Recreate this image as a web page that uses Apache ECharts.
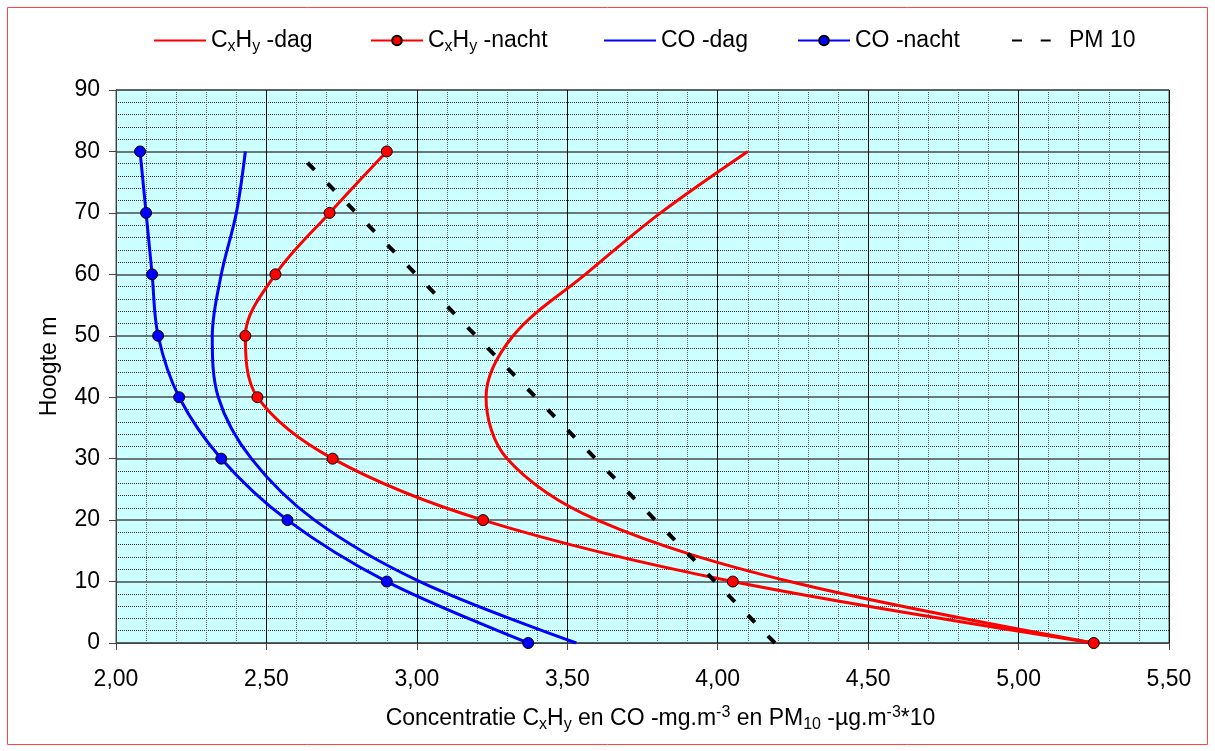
<!DOCTYPE html>
<html>
<head>
<meta charset="utf-8">
<title>Hoogteprofiel concentraties</title>
<script src="https://cdn.jsdelivr.net/npm/echarts@6/dist/echarts.min.js"></script>
<style>
  html, body { margin: 0; padding: 0; background: #ffffff; }
  #chart { width: 1215px; height: 751px; }
</style>
</head>
<body>
<div id="chart"></div>
<script>
// Measuring heights (m)
const heights = [0, 10, 20, 30, 40, 50, 60, 70, 80];

// Concentrations per height (CxHy and CO in mg/m3, PM10 in µg/m3 / 10)
const cxhyDag   = [5.25, 4.24, 3.60, 3.30, 3.23, 3.32, 3.56, 3.81, 4.10];
const cxhyNacht = [5.25, 4.05, 3.22, 2.72, 2.47, 2.43, 2.53, 2.71, 2.90];
const coDag     = [3.53, 3.01, 2.66, 2.45, 2.34, 2.32, 2.35, 2.40, 2.43];
const coNacht   = [3.37, 2.90, 2.57, 2.35, 2.21, 2.14, 2.12, 2.10, 2.08];

// PM10 profile (straight line between bottom and top)
const pm10Heights = [0, 80];
const pm10        = [4.19, 2.60];

// Series names and their rich-text legend labels
const seriesNames = ['CxHy -dag', 'CxHy -nacht', 'CO -dag', 'CO -nacht', 'PM 10'];
const legendLabels = {
  'CxHy -dag':   '{n|C}{sub|x}{n|H}{sub|y}{n| -dag}',
  'CxHy -nacht': '{n|C}{sub|x}{n|H}{sub|y}{n| -nacht}',
  'CO -dag':     '{n|CO -dag}',
  'CO -nacht':   '{n|CO -nacht}',
  'PM 10':       '{n|PM 10}'
};

// Axis ranges and tick steps
const xMin = 2.0, xMax = 5.5, xStep = 0.5;
const yMin = 0, yMax = 90, yStep = 10;

const pairs = (xs, ys) => xs.map((x, i) => [x, ys[i]]);
const fmtComma = v => v.toFixed(2).replace('.', ',');

const FONT = '"Liberation Sans", Arial, sans-serif';
const richText = {
  n:   { fontFamily: FONT, fontSize: 23, color: '#000', lineHeight: 28 },
  sub: { fontFamily: FONT, fontSize: 16, color: '#000', lineHeight: 15, verticalAlign: 'bottom' },
  sup: { fontFamily: FONT, fontSize: 16, color: '#000', lineHeight: 16, verticalAlign: 'top' }
};

const legendLeft = [153, 370, 603, 797, 1011];
const noMarker = { 'CxHy -dag': true, 'CO -dag': true, 'PM 10': true };

const legends = seriesNames.map((name, i) => ({
  left: legendLeft[i],
  top: 29,
  padding: 0,
  orient: 'horizontal',
  itemWidth: 52,
  itemHeight: 12,
  selectedMode: false,
  data: [noMarker[name] ? { name: name, itemStyle: { opacity: 0 } } : { name: name }],
  formatter: n => legendLabels[n],
  textStyle: { fontFamily: FONT, fontSize: 23, color: '#000', rich: richText }
}));

// Smoothed profile line; markers only for the night series
const lineSeries = (name, xs, ys, color, markers) => ({
  name: name,
  type: 'line',
  data: pairs(xs, ys),
  smooth: 0.34,
  smoothMonotone: null,
  symbol: markers ? 'circle' : 'none',
  showSymbol: !!markers,
  symbolSize: 11,
  lineStyle: { color: color, width: 3 },
  itemStyle: { color: color, borderColor: '#000', borderWidth: 1 },
  emphasis: { disabled: true },
  z: 3
});

const option = {
  animation: false,
  backgroundColor: '#ffffff',
  textStyle: { fontFamily: FONT },
  graphic: [{
    type: 'rect',
    silent: true,
    shape: { x: 7.5, y: 7.5, width: 1200, height: 737 },
    style: { fill: 'none', stroke: '#ff4444', lineWidth: 1 },
    z: -1
  }],
  legend: legends,
  grid: {
    left: 116, top: 90, width: 1053, height: 553,
    show: true,
    backgroundColor: '#ccffff',
    borderColor: '#555555',
    borderWidth: 1,
    containLabel: false
  },
  xAxis: {
    type: 'value',
    min: xMin, max: xMax, interval: xStep,
    name: '{n|Concentratie C}{sub|x}{n|H}{sub|y}{n| en CO -mg.m}{sup|-3}{n| en PM}{sub|10}{n| -µg.m}{sup|-3}{n|*10}',
    nameLocation: 'middle',
    nameGap: 62,
    nameTextStyle: { fontFamily: FONT, fontSize: 23, color: '#000', rich: richText, padding: [0, 0, 0, 36] },
    axisLine: { show: true, lineStyle: { color: '#444444', width: 1 } },
    axisTick: { show: true, inside: false, length: 7, lineStyle: { color: '#444444' } },
    axisLabel: { formatter: fmtComma, fontFamily: FONT, fontSize: 23, color: '#000', margin: 25 },
    splitLine: { show: true, lineStyle: { color: '#111111', width: 1 } },
    minorTick: { show: false, splitNumber: 5 },
    minorSplitLine: { show: true, lineStyle: { color: '#5a6a6a', width: 1, type: 'dotted' } }
  },
  yAxis: {
    type: 'value',
    min: yMin, max: yMax, interval: yStep,
    name: 'Hoogte m',
    nameLocation: 'middle',
    nameGap: 51,
    nameRotate: 90,
    nameTextStyle: { fontFamily: FONT, fontSize: 23, color: '#000', lineHeight: 28 },
    axisLine: { show: true, lineStyle: { color: '#444444', width: 1 } },
    axisTick: { show: true, inside: false, length: 7, lineStyle: { color: '#444444' } },
    axisLabel: { fontFamily: FONT, fontSize: 23, color: '#000', margin: 16 },
    splitLine: { show: true, lineStyle: { color: '#4a4a4a', width: 1.5 } },
    minorTick: { show: false, splitNumber: 5 },
    minorSplitLine: { show: true, lineStyle: { color: '#333333', width: 1, type: 'dotted' } }
  },
  series: [
    lineSeries('CxHy -dag', cxhyDag, heights, '#ff0000', false),
    lineSeries('CxHy -nacht', cxhyNacht, heights, '#ff0000', true),
    lineSeries('CO -dag', coDag, heights, '#0000ff', false),
    lineSeries('CO -nacht', coNacht, heights, '#0000ff', true),
    {
      name: 'PM 10',
      type: 'line',
      data: pairs(pm10, pm10Heights),
      symbol: 'none',
      showSymbol: false,
      lineStyle: { color: '#000000', width: 4, type: [10, 18.7], cap: 'butt' },
      itemStyle: { color: '#000000' },
      emphasis: { disabled: true },
      z: 4
    }
  ]
};

const chart = echarts.init(document.getElementById('chart'), null, { renderer: 'canvas' });
chart.setOption(option);
</script>
</body>
</html>
